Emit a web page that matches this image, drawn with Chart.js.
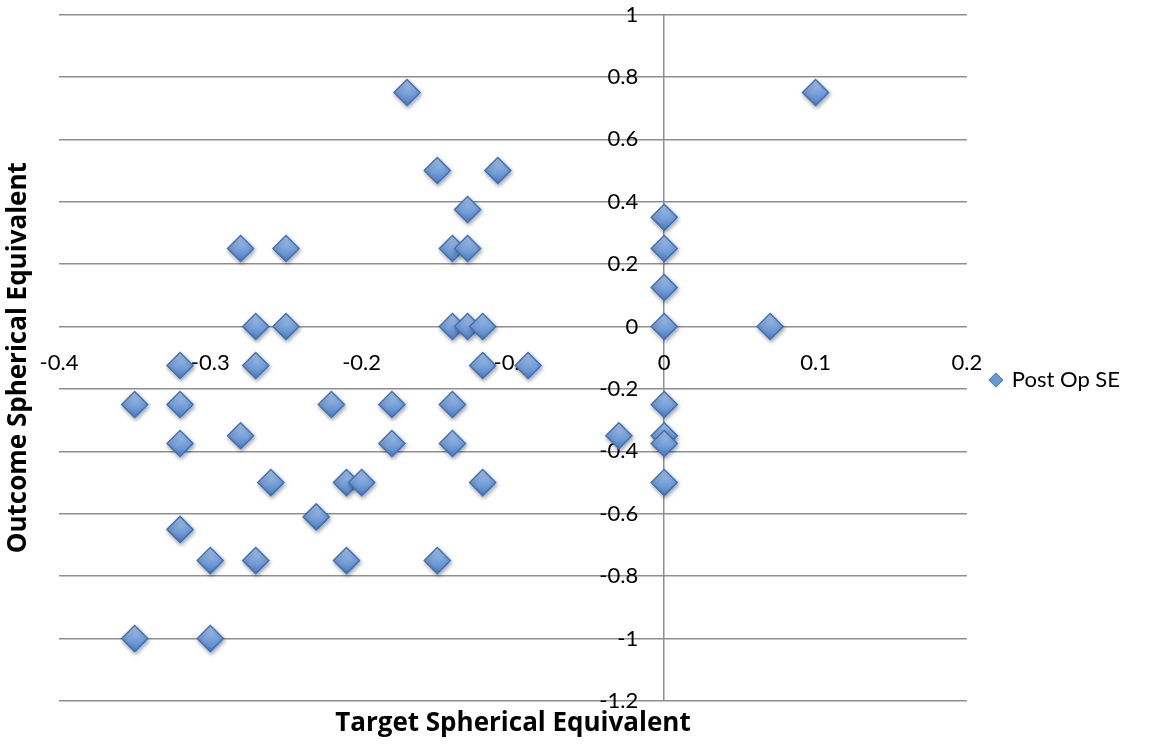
<!DOCTYPE html>
<html>
<head>
<meta charset="utf-8">
<title>Post Op SE</title>
<script src="https://cdn.jsdelivr.net/npm/chart.js@4/dist/chart.umd.min.js"></script>
<style>
    html, body { margin: 0; padding: 0; background: #fff; }
    #wrap { width: 1173px; height: 749px; position: relative; }
</style>
</head>
<body>
<div id="wrap"><canvas id="chart"></canvas></div>
<script>
// target spherical equivalent (x) and outcome spherical equivalent (y)
var targetSE = [
    -0.17, 0.1, -0.15, -0.11, -0.13, -0.14, -0.13, -0.28, -0.25,
    0, 0, 0, 0, 0.07, -0.27, -0.25, -0.14, -0.13, -0.12,
    -0.32, -0.27, -0.12, -0.09,
    -0.35, -0.32, -0.22, -0.18, -0.14, 0,
    -0.32, -0.28, -0.18, -0.14, -0.03, 0, 0,
    -0.26, -0.21, -0.2, -0.12, 0,
    -0.23, -0.32,
    -0.3, -0.27, -0.21, -0.15,
    -0.35, -0.3
];
var outcomeSE = [
    0.75, 0.75, 0.5, 0.5, 0.375, 0.25, 0.25, 0.25, 0.25,
    0.35, 0.25, 0.125, 0, 0, 0, 0, 0, 0, 0,
    -0.125, -0.125, -0.125, -0.125,
    -0.25, -0.25, -0.25, -0.25, -0.25, -0.25,
    -0.375, -0.35, -0.375, -0.375, -0.35, -0.35, -0.375,
    -0.5, -0.5, -0.5, -0.5, -0.5,
    -0.61, -0.65,
    -0.75, -0.75, -0.75, -0.75,
    -1, -1
];
var seriesName = "Post Op SE";
var xTitle = "Target Spherical Equivalent";
var yTitle = "Outcome Spherical Equivalent";

var points = targetSE.map(function (x, i) {
    return { x: x, y: outcomeSE[i] };
});

var R = 13;
var gridGray = "#8f8f8f";
// y tick labels sit a little left of the x = 0 axis line
var yLabelAnchor = -0.0172;

function diamondFill(c) {
    var chart = c.chart;
    if (!chart.chartArea || !c.raw) return "#6a98d4";
    var py = chart.scales.y.getPixelForValue(c.raw.y);
    var g = chart.ctx.createLinearGradient(0, py - R, 0, py + R);
    g.addColorStop(0, "#b3cdf0");
    g.addColorStop(0.5, "#7ba4dc");
    g.addColorStop(1, "#4f80c4");
    return g;
}

var shadowPlugin = {
    id: "markerShadow",
    beforeDatasetsDraw: function (chart) {
        var ctx = chart.ctx;
        ctx.save();
        ctx.shadowColor = "rgba(0,0,0,0.35)";
        ctx.shadowBlur = 4;
        ctx.shadowOffsetX = 1;
        ctx.shadowOffsetY = 2;
    },
    afterDatasetsDraw: function (chart) {
        chart.ctx.restore();
    }
};

var fmt = function (v) { return String(Math.round(v * 10) / 10); };
var isZero = function (c) { return c.tick && Math.abs(c.tick.value) < 1e-9; };

new Chart(document.getElementById("chart"), {
    type: "scatter",
    data: {
        datasets: [{
            label: seriesName,
            data: points,
            pointStyle: "rectRot",
            pointRadius: R,
            pointHoverRadius: R,
            borderWidth: 1.5,
            borderColor: "#3f72b8",
            backgroundColor: diamondFill
        }]
    },
    plugins: [shadowPlugin],
    options: {
        responsive: true,
        maintainAspectRatio: false,
        animation: false,
        layout: { padding: { top: 12, left: 0, right: 43, bottom: 1 } },
        scales: {
            x: {
                type: "linear",
                min: -0.4,
                max: 0.2,
                position: { y: 0 },
                grid: {
                    drawTicks: false,
                    color: function (c) { return isZero(c) ? gridGray : "rgba(0,0,0,0)"; },
                    lineWidth: function (c) { return isZero(c) ? 1.5 : 0; }
                },
                border: { display: false },
                ticks: {
                    stepSize: 0.1,
                    padding: 23,
                    color: "#000",
                    font: { family: "Lato", size: 22 },
                    maxRotation: 0,
                    callback: fmt
                }
            },
            y: {
                type: "linear",
                min: -1.2,
                max: 1,
                position: { x: yLabelAnchor },
                grid: { color: gridGray, lineWidth: 1.5, drawTicks: false },
                border: { display: false },
                ticks: {
                    stepSize: 0.2,
                    padding: 0,
                    color: "#000",
                    font: { family: "Lato", size: 22, lineHeight: 1 },
                    callback: fmt
                }
            }
        },
        plugins: {
            legend: {
                position: "right",
                labels: {
                    usePointStyle: true,
                    boxWidth: 10,
                    boxHeight: 10,
                    padding: 24,
                    color: "#000",
                    font: { family: "Lato", size: 22 },
                    generateLabels: function (chart) {
                        var items = Chart.defaults.plugins.legend.labels.generateLabels(chart);
                        items.forEach(function (it) {
                            it.fillStyle = "#6a98d4";
                            it.strokeStyle = "#3f72b8";
                            it.lineWidth = 1;
                        });
                        return items;
                    }
                }
            },
            title: {
                display: true,
                text: xTitle,
                position: "bottom",
                fullSize: false,
                color: "#000",
                font: { family: "Open Sans", size: 26, weight: "bold", lineHeight: 1.2 },
                padding: { top: 7.4, bottom: 8.4 }
            },
            subtitle: {
                display: true,
                text: yTitle,
                position: "left",
                fullSize: false,
                color: "#000",
                font: { family: "Open Sans", size: 26, weight: "bold", lineHeight: 1.2 },
                padding: { top: 3, bottom: 24.8 }
            },
            tooltip: { enabled: false }
        }
    }
});
</script>
</body>
</html>
